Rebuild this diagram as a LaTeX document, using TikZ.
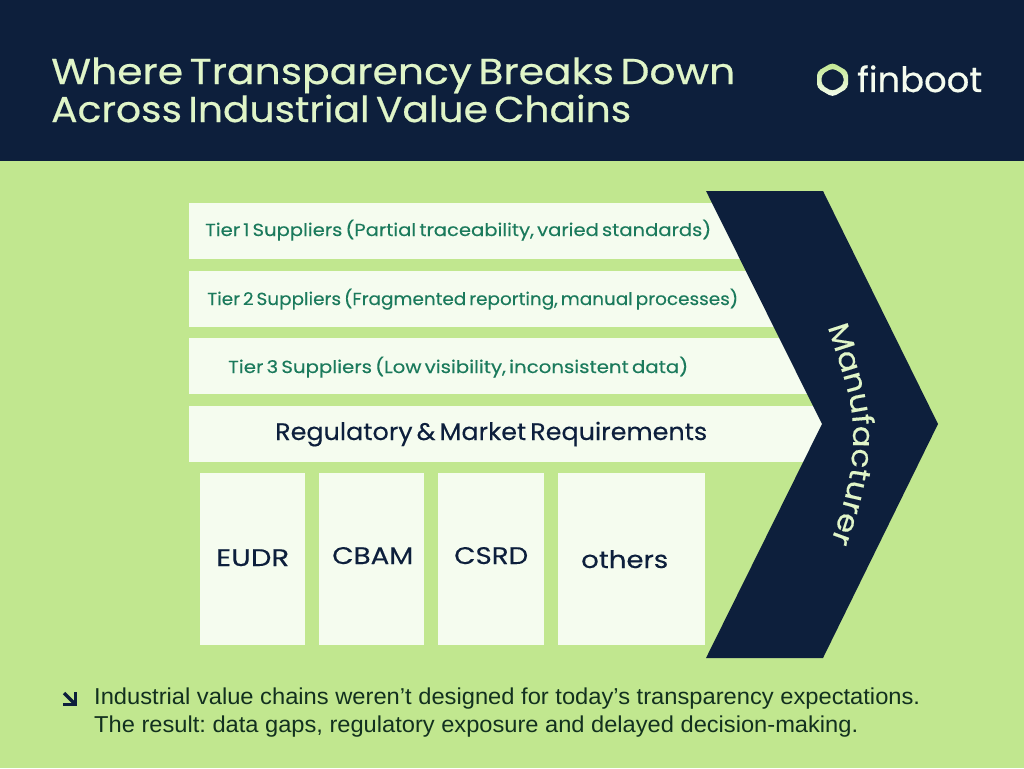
\documentclass[tikz,border=0pt]{standalone}
\usepackage{graphicx}
\usepackage{fontspec}
\usetikzlibrary{decorations.text}
\setmainfont{Liberation Sans}
\frenchspacing
\newfontfamily\wide[FakeStretch=1.12,WordSpace=0.6]{Poppins}
\newfontfamily\widem[FakeStretch=1.12,FakeBold=0.5,WordSpace=0.6]{Poppins}
\newfontfamily\widel[FakeStretch=1.12,FakeBold=0.25,WordSpace=0.6]{Poppins}
\newcommand{\fitw}[2]{\resizebox{#1pt}{\height}{#2}}
\definecolor{navy}{HTML}{0D1F3C}
\definecolor{leaf}{HTML}{C1E78F}
\definecolor{pale}{HTML}{F5FCEF}
\definecolor{mint}{HTML}{E0F5C8}
\definecolor{teal}{HTML}{1B7A5C}
\definecolor{ink}{HTML}{12301F}
\tikzset{
  panel/.style={fill=pale,draw=none},
  titletext/.style={anchor=base west,inner sep=0pt,text=mint,font=\widem\fontsize{36}{36}\selectfont},
  tiertext/.style={anchor=base west,inner sep=0pt,text=teal,font=\widel\fontsize{17.5}{18}\selectfont},
  boxtext/.style={anchor=base west,inner sep=0pt,text=navy,font=\widel\fontsize{24}{25}\selectfont},
  bodytext/.style={anchor=base west,inner sep=0pt,text=ink,font=\fontsize{23}{24}\selectfont},
}
\begin{document}
\begin{tikzpicture}[x=1pt,y=-1pt]
\useasboundingbox (0,0) rectangle (1024,768);
\fill[leaf] (0,0) rectangle (1024,768);
\fill[navy] (0,0) rectangle (1024,161);
\node[titletext] (title1) at (51,84) {\fitw{684}{Where Transparency Breaks Down}};
\node[titletext] (title2) at (51,122) {\fitw{580}{Across Industrial Value Chains}};
% logo
\shade[top color=leaf,bottom color=pale,even odd rule,rounded corners=4pt]
  (832.5,62.5)--(848,71.5)--(848,88)--(832.5,97)--(817,88)--(817,71.5)--cycle
  (832.5,68)--(843.5,74.5)--(843.5,85)--(832.5,91.5)--(821.5,85)--(821.5,74.5)--cycle;
\node[anchor=base west,inner sep=0pt,text=pale,font=\widem\fontsize{35}{36}\selectfont] (logo) at (857,92) {\fitw{125}{finboot}};
% bars
\fill[panel] (189,203) rectangle (760,259);
\fill[panel] (189,271) rectangle (790,327);
\fill[panel] (189,338) rectangle (815,394);
\fill[panel] (189,406) rectangle (830,462);
\node[tiertext] (t1) at (205,236) {\fitw{506}{Tier 1 Suppliers (Partial traceability, varied standards)}};
\node[tiertext] (t2) at (207,305) {\fitw{531}{Tier 2 Suppliers (Fragmented reporting, manual processes)}};
\node[tiertext] (t3) at (228,373) {\fitw{460}{Tier 3 Suppliers (Low visibility, inconsistent data)}};
\node[boxtext] (reg) at (275,440) {\fitw{432}{Regulatory \& Market Requirements}};
% boxes
\fill[panel] (200,473) rectangle (305,645);
\fill[panel] (319,473) rectangle (424,645);
\fill[panel] (438,473) rectangle (544,645);
\fill[panel] (558,473) rectangle (705,645);
\node[boxtext] (eudr) at (216,566) {\fitw{73}{EUDR}};
\node[boxtext] (cbam) at (332,564) {\fitw{81}{CBAM}};
\node[boxtext] (csrd) at (454,564) {\fitw{74}{CSRD}};
\node[boxtext] (others) at (581,568) {\fitw{87}{others}};
% chevron
\fill[navy] (706,191)--(823,191)--(938,424)--(823,658)--(706,658)--(822,424)--cycle;
\path[postaction={decorate,decoration={text along path,text align=center,
    text={|\widel\fontsize{29}{30}\selectfont\color{mint}|Manufacturer}}}]
  (823,312) .. controls (841,370) and (852,395) .. (853,430) .. controls (854,470) and (844,510) .. (825,556);
% note
\draw[navy,line width=3.2pt] (64,693)--(75,704);
\draw[navy,line width=3.2pt] (63,704.5)--(75.5,704.5)--(75.5,692);
\node[bodytext] (n1) at (94,704) {\fitw{826}{Industrial value chains weren’t designed for today’s transparency expectations.}};
\node[bodytext] (n2) at (94,732) {\fitw{764}{The result: data gaps, regulatory exposure and delayed decision-making.}};
\end{tikzpicture}
\end{document}
